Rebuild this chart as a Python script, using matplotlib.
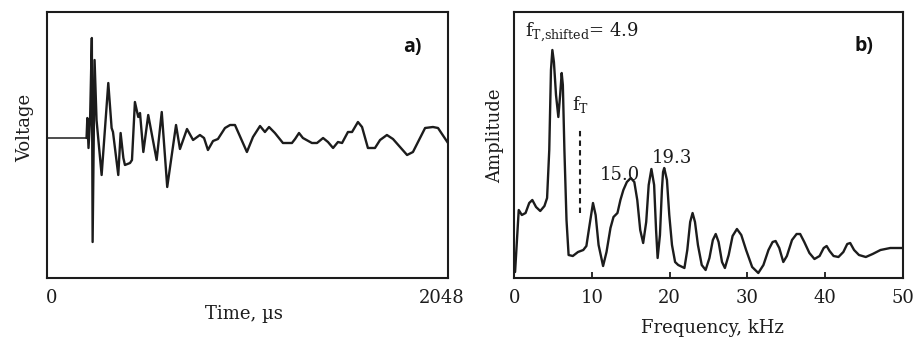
import matplotlib
matplotlib.use("Agg")
import matplotlib.pyplot as plt
from matplotlib.transforms import ScaledTranslation

plt.rcParams["font.family"] = ["DejaVu Serif"]
plt.rcParams["mathtext.fontset"] = "dejavuserif"

# ---- a) time-domain signal ----
time_us = [0, 202, 206, 212, 220, 229, 233, 243, 253, 279,
           313, 330, 337, 364, 376, 390, 398, 424, 434, 449,
           466, 475, 492, 517, 560, 586, 614, 659, 679, 715,
           746, 781, 802, 822, 848, 873, 909, 935, 960, 1021,
           1052, 1088, 1113, 1134, 1164, 1205, 1251, 1267, 1287, 1307,
           1353, 1379, 1410, 1435, 1461, 1486, 1507, 1537, 1558, 1588,
           1609, 1639, 1675, 1701, 1736, 1767, 1803, 1839, 1869, 1931,
           1971, 1997, 2048]
voltage = [0, 0, 0.20, -0.10, 0.18, 1.00, -1.04, 0.78, 0.18, -0.37,
           0.55, 0.10, 0.06, -0.37, 0.05, -0.20, -0.27, -0.25, -0.22, 0.36,
           0.21, 0.25, -0.14, 0.23, -0.22, 0.26, -0.49, 0.13, -0.11, 0.09,
           -0.02, 0.03, 0.00, -0.12, -0.03, -0.01, 0.10, 0.13, 0.13, -0.14,
           0.01, 0.12, 0.06, 0.11, 0.05, -0.05, -0.05, -0.01, 0.05, 0.00,
           -0.05, -0.05, 0.00, -0.04, -0.10, -0.04, -0.05, 0.06, 0.06, 0.16,
           0.11, -0.10, -0.10, -0.02, 0.03, -0.01, -0.09, -0.17, -0.14, 0.10,
           0.11, 0.10, -0.05]
time_ticks = [0, 2048]
time_ticklabels = ["0", "2048"]

# ---- b) amplitude spectrum ----
freq_khz = [0.10, 0.57, 0.97, 1.45, 1.92, 2.32, 2.80, 3.34, 3.88, 4.22,
            4.50, 4.72, 4.90, 5.10, 5.37, 5.67, 5.90, 6.10, 6.25, 6.45,
            6.72, 6.99, 7.53, 8.20, 8.88, 9.28, 9.69, 10.13, 10.47, 10.85,
            11.43, 11.87, 12.38, 12.77, 13.28, 13.66, 14.04, 14.49, 15.00, 15.45,
            15.83, 16.21, 16.59, 16.98, 17.30, 17.65, 18.00, 18.25, 18.45, 18.75,
            19.00, 19.15, 19.30, 19.65, 19.95, 20.30, 20.70, 21.10, 21.50, 21.90,
            22.27, 22.64, 22.95, 23.26, 23.64, 24.13, 24.63, 25.12, 25.56, 25.93,
            26.30, 26.74, 27.11, 27.60, 28.10, 28.66, 29.22, 29.84, 30.62, 31.41,
            32.07, 32.72, 33.25, 33.64, 34.11, 34.63, 35.09, 35.75, 36.34, 36.80,
            37.33, 37.99, 38.64, 39.30, 39.83, 40.21, 40.59, 41.10, 41.73, 42.36,
            42.86, 43.24, 43.74, 44.37, 45.25, 46.13, 47.14, 48.40, 50.00]
amplitude = [2.4, 27.2, 25.2, 26.0, 30.0, 31.2, 28.4, 26.8, 28.8, 32.0,
             51.2, 83.2, 91.2, 86.4, 73.2, 64.4, 73.2, 82.0, 77.2, 51.2,
             23.2, 9.2, 8.8, 10.4, 11.2, 12.8, 21.2, 30.0, 25.2, 13.2,
             4.8, 10.4, 20.0, 24.4, 26.0, 31.2, 35.2, 38.4, 40.0, 38.4,
             31.2, 19.2, 14.0, 22.4, 37.2, 43.6, 37.2, 19.2, 8.0, 17.2,
             35.2, 42.4, 44.0, 39.2, 25.2, 13.2, 6.4, 5.2, 4.6, 4.0,
             11.2, 22.4, 26.0, 22.4, 13.2, 5.2, 3.2, 8.0, 15.2, 17.6,
             14.4, 6.4, 4.0, 9.2, 16.8, 19.6, 17.2, 11.2, 4.4, 2.0,
             5.2, 11.2, 14.4, 14.8, 12.0, 6.4, 8.8, 15.2, 17.6, 17.6,
             14.4, 10.0, 7.6, 8.8, 12.0, 12.8, 10.8, 8.8, 8.4, 10.4,
             13.6, 14.0, 11.2, 9.2, 8.4, 9.6, 11.2, 12.0, 12.0]
freq_ticks = [0, 10, 20, 30, 40, 50]
f_shifted = 4.9
f_T = 8.4
f_T_span = (25.9, 60.5)
peak_labels = [15.0, 19.3]

ink = "#1c1c1c"

fig = plt.figure(figsize=(9.2, 3.4), dpi=100)
ax1 = fig.add_axes([47 / 920, 62 / 340, 401 / 920, 266 / 340])
ax2 = fig.add_axes([514.3 / 920, 62 / 340, 388.4 / 920, 266 / 340])

for ax in (ax1, ax2):
    for sp in ax.spines.values():
        sp.set_linewidth(1.5)
        sp.set_color(ink)
    ax.set_yticks([])

# Panel a
ax1.plot(time_us[:2], voltage[:2], color=ink, lw=1.1)
ax1.plot(time_us[1:], voltage[1:], color=ink, lw=1.7,
         solid_joinstyle="round", solid_capstyle="round")
ax1.set_xlim(0, 2048)
ax1.set_ylim(-1.40, 1.26)
ax1.set_xticks(time_ticks)
ax1.set_xticklabels(time_ticklabels, fontsize=13)
ax1.tick_params(axis="x", length=0, pad=8, colors=ink)
lab0, lab1 = ax1.get_xticklabels()
lab0.set_transform(lab0.get_transform() + ScaledTranslation(5 / 100, 0, fig.dpi_scale_trans))
lab1.set_transform(lab1.get_transform() + ScaledTranslation(-6 / 100, 0, fig.dpi_scale_trans))
ax1.text(0.49, (278 - 319) / 266, "Time, µs", transform=ax1.transAxes,
         ha="center", va="baseline", fontsize=13, color=ink)
fig.text(25 / 920, 1 - 128 / 340, "Voltage", rotation=90, ha="center",
         va="center", fontsize=13, color=ink)
ax1.text(0.911, 0.870, "a)", transform=ax1.transAxes, ha="center", va="center",
         fontsize=14, fontweight="bold", family="Open Sans", color="#111")

# Panel b
ax2.plot(freq_khz, amplitude, color=ink, lw=1.7,
         solid_joinstyle="round", solid_capstyle="round")
ax2.plot([f_T, f_T], f_T_span, color=ink, lw=1.5, linestyle=(0, (2.6, 2.0)))
ax2.set_xlim(0, 50)
ax2.set_ylim(0, 106.4)
ax2.set_xticks(freq_ticks)
ax2.set_xticklabels([str(t) for t in freq_ticks], fontsize=13)
ax2.tick_params(axis="x", direction="in", length=4, width=1.3, pad=8, colors=ink)
ax2.text(0.51, (278 - 333) / 266, "Frequency, kHz", transform=ax2.transAxes,
         ha="center", va="baseline", fontsize=13, color=ink)
fig.text(495 / 920, 1 - 136 / 340, "Amplitude", rotation=90, ha="center",
         va="center", fontsize=13, color=ink)
ax2.text(0.0275, 0.906, r"$\mathrm{f}_{\mathrm{T{,}shifted}}$= " + f"{f_shifted}",
         transform=ax2.transAxes, ha="left", va="baseline", fontsize=13, color=ink)
ax2.text(0.1486, 0.632, r"$\mathrm{f}_{\mathrm{T}}$", transform=ax2.transAxes,
         ha="left", va="baseline", fontsize=13, color=ink)
ax2.text(0.272, 0.368, f"{peak_labels[0]:.1f}", transform=ax2.transAxes,
         ha="center", va="baseline", fontsize=13, color=ink)
ax2.text(0.407, 0.432, f"{peak_labels[1]:.1f}", transform=ax2.transAxes,
         ha="center", va="baseline", fontsize=13, color=ink)
ax2.text(0.900, 0.874, "b)", transform=ax2.transAxes, ha="center", va="center",
         fontsize=14, fontweight="bold", family="Open Sans", color="#111")

fig.savefig("out.png", dpi=100)
